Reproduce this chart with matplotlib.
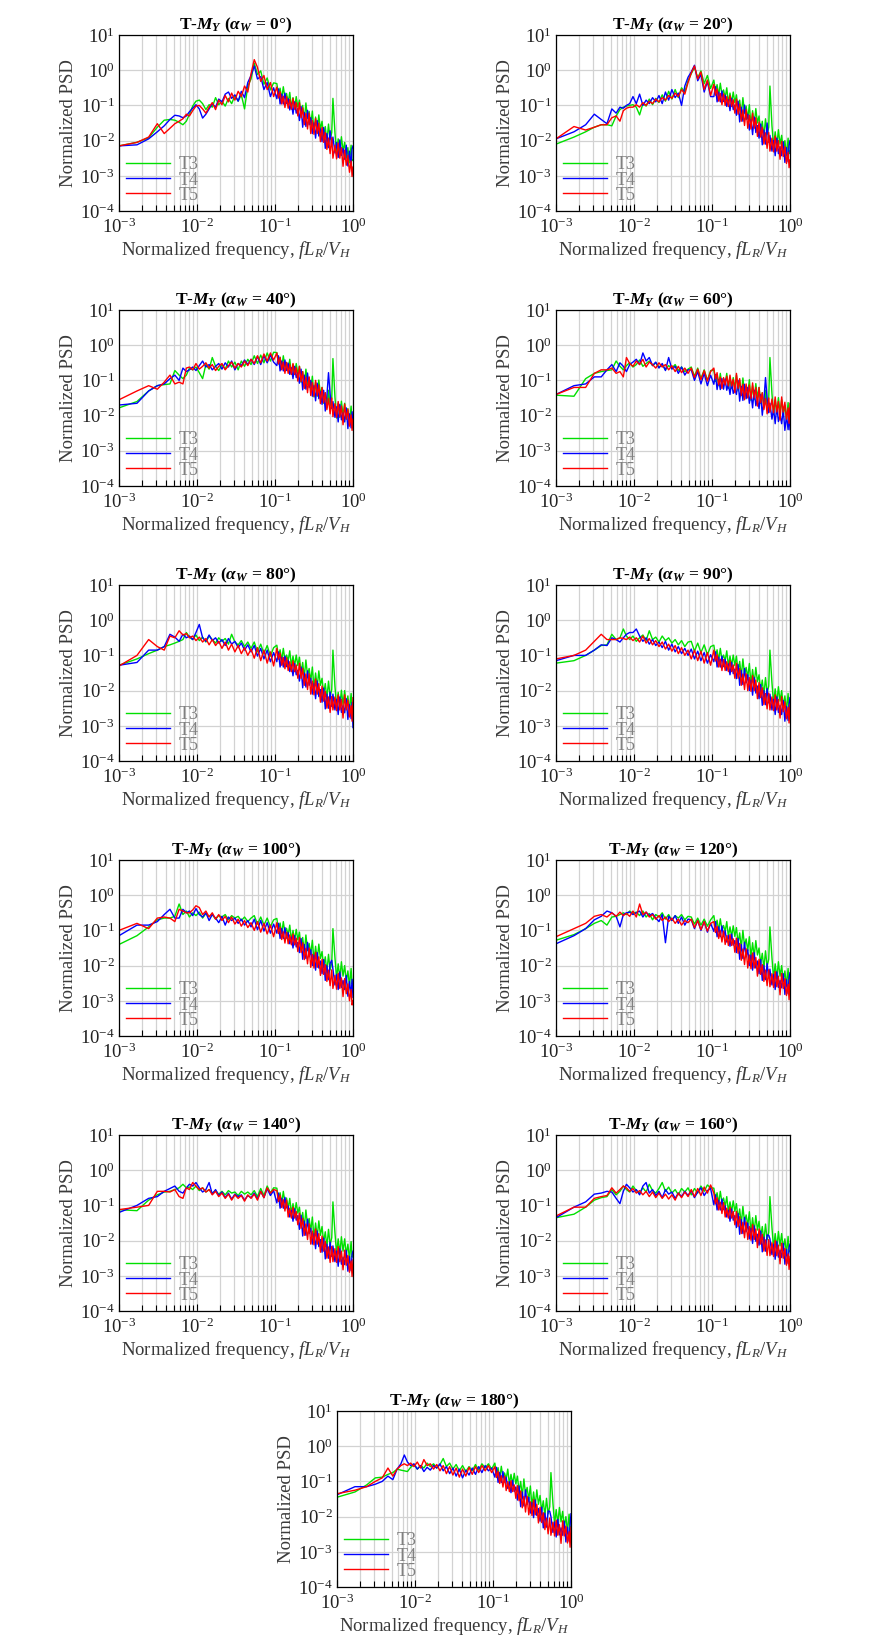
import numpy as np
import matplotlib
matplotlib.use('Agg')
import matplotlib.pyplot as plt
from matplotlib.ticker import LogLocator, NullFormatter, NullLocator

# frequency points (fL_R/V_H), shared by every spectrum
freq = [0.0010, 0.0017, 0.0024, 0.0031, 0.0038, 0.0045, 0.0052, 0.0059, 0.0066, 0.0073,
        0.0080, 0.0088, 0.0097, 0.0107, 0.0118, 0.0130, 0.0143, 0.0157, 0.0173, 0.0190,
        0.0209, 0.0230, 0.0253, 0.0278, 0.0306, 0.0337, 0.0370, 0.0407, 0.0448, 0.0493,
        0.0542, 0.0596, 0.0656, 0.0721, 0.0794, 0.0873, 0.0960,
        0.1056, 0.1108, 0.1162, 0.1219, 0.1278, 0.1341, 0.1406,
        0.1475, 0.1546, 0.1622, 0.1701, 0.1784, 0.1871, 0.1962,
        0.2058, 0.2159, 0.2264, 0.2374, 0.2490, 0.2612, 0.2739,
        0.2873, 0.3013, 0.3160, 0.3314, 0.3476, 0.3646, 0.3824,
        0.4010, 0.4206, 0.4411, 0.4627, 0.4852, 0.5089, 0.5338,
        0.5530, 0.5871, 0.6158, 0.6458, 0.6773, 0.7104, 0.7451,
        0.7814, 0.8196, 0.8596, 0.9016, 0.9455, 0.9730, 1.0]

angles = [0, 20, 40, 60, 80, 90, 100, 120, 140, 160, 180]

# log10 of normalized PSD
t3_000 = [-2.15,-2.05,-1.92,-1.62,-1.42,-1.40,-1.42,-1.48,-1.55,-1.45,
          -1.25,-1.02,-0.88,-0.85,-0.95,-1.12,-0.98,-1.05,-0.78,-0.98,
          -0.88,-1.02,-0.80,-0.95,-0.72,-0.88,-0.70,-1.10,-0.45,-0.25,
          0.20,-0.12,-0.02,-0.40,-0.22,-0.56,-0.36,
          -0.38,-0.70,-0.51,-0.82,-0.47,-0.79,-0.66,
          -0.91,-0.63,-1.06,-0.78,-1.06,-0.75,-1.05,
          -0.85,-1.30,-1.00,-1.43,-0.93,-1.37,-1.17,
          -1.56,-1.16,-1.75,-1.33,-1.73,-1.27,-1.68,
          -1.45,-1.90,-1.60,-2.03,-1.53,-1.97,-1.77,
          -0.80,-1.78,-2.37,-1.95,-2.35,-1.89,-2.30,
          -2.05,-2.50,-2.20,-2.63,-2.13,-2.57,-2.55]
t4_000 = [-2.15,-2.12,-1.95,-1.75,-1.58,-1.40,-1.28,-1.30,-1.35,-1.30,
          -1.18,-1.08,-0.98,-1.10,-1.36,-1.25,-1.10,-0.95,-1.05,-0.82,
          -0.90,-0.68,-0.62,-0.80,-0.70,-0.88,-0.60,-0.78,-0.35,-0.15,
          0.12,-0.25,-0.18,-0.55,-0.35,-0.75,-0.50,
          -0.81,-0.53,-0.96,-0.68,-0.96,-0.65,-0.95,
          -0.81,-1.13,-0.94,-1.25,-0.90,-1.22,-1.09,
          -1.43,-1.03,-1.62,-1.20,-1.60,-1.14,-1.55,
          -1.35,-1.80,-1.50,-1.93,-1.43,-1.87,-1.67,
          -2.03,-1.63,-2.22,-1.80,-2.20,-1.72,-2.15,
          -1.90,-2.35,-2.05,-2.48,-1.98,-2.42,-2.22,
          -2.53,-2.13,-2.72,-2.30,-2.70,-2.24,-2.15]
t5_000 = [-2.15,-2.05,-1.90,-1.52,-1.80,-1.65,-1.52,-1.45,-1.38,-1.25,
          -1.30,-1.15,-1.02,-1.00,-1.10,-1.22,-1.05,-0.92,-1.12,-0.85,
          -0.98,-0.72,-0.90,-0.65,-0.85,-0.60,-0.75,-0.45,-0.62,-0.10,
          0.30,0.08,-0.32,-0.15,-0.55,-0.35,-0.75,
          -0.48,-0.79,-0.61,-0.96,-0.74,-1.06,-0.75,
          -1.08,-0.83,-1.11,-0.80,-1.11,-0.92,-1.30,
          -0.92,-1.35,-1.07,-1.55,-1.23,-1.67,-1.22,
          -1.80,-1.43,-1.82,-1.37,-1.80,-1.50,-2.03,
          -1.62,-2.05,-1.77,-2.25,-1.93,-2.37,-1.92,
          -2.50,-2.13,-2.52,-2.07,-2.50,-2.20,-2.73,
          -2.27,-2.70,-2.42,-2.90,-2.58,-3.02,-2.75]

t3_020 = [-2.10,-1.90,-1.75,-1.62,-1.55,-1.55,-1.58,-1.30,-1.12,-1.05,
          -1.02,-1.00,-0.98,-1.05,-1.27,-0.95,-1.02,-0.82,-0.98,-0.80,
          -0.92,-0.70,-0.88,-0.60,-0.82,-0.55,-0.78,-0.50,-0.62,-0.30,
          -0.10,0.08,-0.22,-0.02,-0.38,-0.15,-0.52,
          -0.28,-0.60,-0.41,-0.72,-0.37,-0.69,-0.56,
          -0.78,-0.50,-0.93,-0.65,-0.93,-0.62,-0.92,
          -0.70,-1.15,-0.85,-1.28,-0.78,-1.22,-1.02,
          -1.38,-0.98,-1.57,-1.15,-1.55,-1.09,-1.50,
          -1.30,-1.75,-1.45,-1.88,-1.38,-1.82,-1.62,
          -0.45,-1.58,-2.17,-1.75,-2.15,-1.69,-2.10,
          -1.85,-2.30,-2.00,-2.43,-1.93,-2.37,-2.30]
t4_020 = [-1.95,-1.75,-1.55,-1.25,-1.40,-1.52,-1.10,-1.22,-1.05,-1.08,
          -1.00,-0.95,-0.75,-0.95,-0.68,-1.00,-0.85,-0.95,-0.78,-0.90,
          -0.72,-0.95,-0.62,-0.85,-0.55,-0.78,-0.65,-1.00,-0.45,-0.20,
          -0.05,0.14,-0.30,-0.12,-0.62,-0.32,-0.75,
          -0.75,-0.47,-0.90,-0.62,-0.90,-0.59,-0.89,
          -0.71,-1.03,-0.84,-1.15,-0.80,-1.12,-0.99,
          -1.28,-0.88,-1.47,-1.05,-1.45,-0.99,-1.40,
          -1.25,-1.70,-1.40,-1.83,-1.33,-1.77,-1.57,
          -1.93,-1.53,-2.12,-1.70,-2.10,-1.50,-2.05,
          -1.85,-2.30,-2.00,-2.43,-1.93,-2.37,-2.17,
          -2.43,-2.03,-2.62,-2.20,-2.60,-2.14,-2.00]
t5_020 = [-1.95,-1.60,-1.70,-1.62,-1.55,-1.55,-1.35,-1.30,-1.45,-1.15,
          -1.08,-1.05,-1.05,-0.98,-1.05,-0.92,-1.00,-0.88,-0.95,-0.82,
          -0.90,-0.78,-0.85,-0.72,-0.80,-0.65,-0.75,-0.55,-0.68,-0.35,
          -0.08,0.12,-0.25,-0.05,-0.55,-0.28,-0.72,
          -0.40,-0.71,-0.53,-0.88,-0.66,-0.98,-0.67,
          -1.00,-0.75,-1.03,-0.72,-1.03,-0.84,-1.22,
          -0.82,-1.25,-0.97,-1.45,-1.13,-1.57,-1.12,
          -1.65,-1.28,-1.67,-1.22,-1.65,-1.35,-1.88,
          -1.47,-1.90,-1.62,-2.10,-1.78,-2.22,-1.77,
          -2.30,-1.93,-2.32,-1.87,-2.30,-2.00,-2.53,
          -2.02,-2.45,-2.17,-2.65,-2.33,-2.77,-2.55]

t3_040 = [-1.78,-1.60,-1.30,-1.15,-1.12,-1.10,-0.72,-0.85,-0.95,-0.85,
          -0.65,-0.70,-0.62,-0.78,-0.95,-0.55,-0.68,-0.35,-0.60,-0.72,
          -0.55,-0.68,-0.45,-0.62,-0.48,-0.70,-0.45,-0.60,-0.40,-0.55,
          -0.30,-0.52,-0.28,-0.50,-0.22,-0.45,-0.20,
          -0.21,-0.53,-0.34,-0.65,-0.30,-0.62,-0.49,
          -0.68,-0.40,-0.83,-0.55,-0.83,-0.52,-0.82,
          -0.60,-1.05,-0.75,-1.18,-0.68,-1.12,-0.92,
          -1.28,-0.88,-1.47,-1.05,-1.45,-0.99,-1.40,
          -1.20,-1.65,-1.35,-1.78,-1.28,-1.72,-1.52,
          -0.38,-1.48,-2.07,-1.65,-2.05,-1.59,-2.00,
          -1.65,-2.10,-1.80,-2.23,-1.73,-2.17,-2.05]
t4_040 = [-1.70,-1.65,-1.30,-1.15,-1.10,-0.95,-0.85,-1.00,-0.65,-0.75,
          -0.70,-0.62,-0.72,-0.58,-0.45,-0.62,-0.55,-0.70,-0.60,-0.52,
          -0.68,-0.50,-0.62,-0.45,-0.70,-0.52,-0.58,-0.42,-0.55,-0.40,
          -0.55,-0.32,-0.55,-0.30,-0.50,-0.28,-0.48,
          -0.58,-0.30,-0.73,-0.45,-0.73,-0.42,-0.72,
          -0.51,-0.83,-0.64,-0.95,-0.60,-0.92,-0.79,
          -1.08,-0.68,-1.27,-0.85,-1.25,-0.79,-1.20,
          -1.00,-1.45,-1.15,-1.58,-1.08,-1.52,-1.32,
          -1.68,-1.28,-1.87,-1.45,-0.78,-1.39,-1.80,
          -1.60,-2.05,-1.75,-2.18,-1.68,-2.12,-1.92,
          -2.18,-1.78,-2.37,-1.95,-2.35,-1.89,-2.25]
t5_040 = [-1.55,-1.30,-1.15,-1.25,-1.05,-0.85,-1.10,-1.05,-1.10,-0.65,
          -0.62,-0.70,-0.52,-0.68,-0.60,-0.50,-0.65,-0.55,-0.72,-0.60,
          -0.52,-0.70,-0.58,-0.48,-0.65,-0.52,-0.62,-0.45,-0.58,-0.40,
          -0.52,-0.30,-0.50,-0.25,-0.45,-0.22,-0.42,
          -0.22,-0.53,-0.35,-0.70,-0.48,-0.80,-0.49,
          -0.80,-0.55,-0.83,-0.52,-0.83,-0.64,-1.02,
          -0.60,-1.03,-0.75,-1.23,-0.91,-1.35,-0.90,
          -1.43,-1.06,-1.45,-1.00,-1.43,-1.13,-1.66,
          -1.20,-1.63,-1.35,-1.83,-1.51,-1.95,-1.50,
          -2.03,-1.66,-2.05,-1.60,-2.03,-1.73,-2.26,
          -1.67,-2.10,-1.82,-2.30,-1.98,-2.42,-2.10]

t3_060 = [-1.42,-1.45,-0.95,-0.80,-0.75,-0.72,-0.70,-0.45,-0.60,-0.70,
          -0.58,-0.50,-0.62,-0.55,-0.42,-0.60,-0.52,-0.45,-0.58,-0.50,
          -0.62,-0.55,-0.70,-0.58,-0.65,-0.55,-0.72,-0.62,-0.75,-0.68,
          -0.62,-0.88,-0.65,-0.95,-0.70,-1.00,-0.72,
          -0.71,-1.03,-0.84,-1.15,-0.80,-1.12,-0.99,
          -1.08,-0.80,-1.23,-0.95,-1.23,-0.92,-1.22,
          -0.85,-1.30,-1.00,-1.43,-0.93,-1.37,-1.17,
          -1.38,-0.98,-1.57,-1.15,-1.55,-1.09,-1.50,
          -1.20,-1.65,-1.35,-1.78,-1.28,-1.72,-1.52,
          -0.35,-1.38,-1.97,-1.55,-1.95,-1.49,-1.90,
          -1.55,-2.00,-1.70,-2.13,-1.63,-2.07,-1.80]
t4_060 = [-1.40,-1.15,-1.10,-0.90,-0.90,-0.70,-0.55,-0.75,-0.50,-0.60,
          -0.75,-0.55,-0.48,-0.40,-0.55,-0.22,-0.45,-0.35,-0.58,-0.48,
          -0.65,-0.52,-0.72,-0.35,-0.68,-0.60,-0.80,-0.62,-0.85,-0.70,
          -0.70,-1.00,-0.75,-1.10,-0.80,-1.15,-0.85,
          -1.11,-0.83,-1.26,-0.98,-1.26,-0.95,-1.25,
          -0.96,-1.28,-1.09,-1.40,-1.05,-1.37,-1.24,
          -1.40,-1.00,-1.59,-1.17,-1.57,-1.11,-1.52,
          -1.20,-1.65,-1.35,-1.78,-1.28,-1.72,-1.52,
          -1.80,-1.40,-1.99,-1.57,-0.92,-1.51,-1.92,
          -1.65,-2.10,-1.80,-2.23,-1.73,-2.17,-1.97,
          -2.23,-1.83,-2.42,-2.00,-2.40,-1.94,-2.40]
t5_060 = [-1.40,-1.20,-1.20,-0.80,-0.70,-0.70,-0.65,-0.80,-0.75,-0.90,
          -0.35,-0.52,-0.60,-0.45,-0.55,-0.40,-0.62,-0.48,-0.55,-0.65,
          -0.50,-0.62,-0.55,-0.70,-0.58,-0.75,-0.60,-0.78,-0.65,-0.80,
          -0.65,-0.92,-0.68,-0.98,-0.72,-1.02,-0.75,
          -0.65,-0.96,-0.78,-1.13,-0.91,-1.23,-0.92,
          -1.13,-0.88,-1.16,-0.85,-1.16,-0.97,-1.35,
          -0.80,-1.23,-0.95,-1.43,-1.11,-1.55,-1.10,
          -1.50,-1.13,-1.52,-1.07,-1.50,-1.20,-1.73,
          -1.20,-1.63,-1.35,-1.83,-1.51,-1.95,-1.50,
          -1.90,-1.53,-1.92,-1.47,-1.90,-1.60,-2.13,
          -1.47,-1.90,-1.62,-2.10,-1.78,-2.22,-1.65]

t3_080 = [-1.28,-1.10,-0.95,-0.85,-0.75,-0.70,-0.65,-0.60,-0.55,-0.35,
          -0.48,-0.55,-0.42,-0.58,-0.48,-0.62,-0.45,-0.55,-0.65,-0.50,
          -0.60,-0.52,-0.68,-0.40,-0.62,-0.70,-0.58,-0.75,-0.62,-0.80,
          -0.62,-0.90,-0.68,-0.95,-0.72,-1.02,-0.78,
          -0.71,-1.03,-0.84,-1.15,-0.80,-1.12,-0.99,
          -1.15,-0.87,-1.30,-1.02,-1.30,-0.99,-1.29,
          -1.05,-1.50,-1.20,-1.63,-1.13,-1.57,-1.37,
          -1.73,-1.33,-1.92,-1.50,-1.90,-1.44,-1.85,
          -1.65,-2.10,-1.80,-2.23,-1.73,-2.17,-1.97,
          -0.85,-1.88,-2.47,-2.05,-2.45,-1.99,-2.40,
          -2.00,-2.45,-2.15,-2.58,-2.08,-2.52,-2.35]
t4_080 = [-1.28,-1.20,-0.85,-0.85,-0.75,-0.40,-0.48,-0.60,-0.40,-0.50,
          -0.45,-0.55,-0.35,-0.12,-0.50,-0.60,-0.42,-0.58,-0.50,-0.65,
          -0.55,-0.72,-0.52,-0.68,-0.60,-0.78,-0.65,-0.85,-0.70,-0.90,
          -0.72,-1.02,-0.80,-1.10,-0.85,-1.18,-0.92,
          -1.18,-0.90,-1.33,-1.05,-1.33,-1.02,-1.32,
          -1.14,-1.46,-1.27,-1.58,-1.23,-1.55,-1.42,
          -1.73,-1.33,-1.92,-1.50,-1.90,-1.44,-1.85,
          -1.65,-2.10,-1.80,-2.23,-1.73,-2.17,-1.97,
          -2.33,-1.93,-2.52,-2.10,-2.50,-2.04,-2.45,
          -2.10,-2.55,-2.25,-2.68,-2.18,-2.62,-2.42,
          -2.63,-2.23,-2.82,-2.40,-2.80,-2.34,-3.05]
t5_080 = [-1.30,-1.00,-0.55,-0.75,-0.85,-0.45,-0.50,-0.30,-0.42,-0.38,
          -0.50,-0.45,-0.58,-0.48,-0.62,-0.52,-0.70,-0.55,-0.72,-0.60,
          -0.80,-0.62,-0.85,-0.68,-0.90,-0.72,-0.95,-0.78,-1.00,-0.82,
          -1.08,-0.78,-1.15,-0.85,-1.22,-0.90,-1.30,
          -0.80,-1.11,-0.93,-1.28,-1.06,-1.38,-1.07,
          -1.43,-1.18,-1.46,-1.15,-1.46,-1.27,-1.65,
          -1.22,-1.65,-1.37,-1.85,-1.53,-1.97,-1.52,
          -2.10,-1.73,-2.12,-1.67,-2.10,-1.80,-2.33,
          -1.87,-2.30,-2.02,-2.50,-2.18,-2.62,-2.17,
          -2.55,-2.18,-2.57,-2.12,-2.55,-2.25,-2.78,
          -2.12,-2.55,-2.27,-2.75,-2.43,-2.87,-2.20]

t3_090 = [-1.22,-1.15,-1.00,-0.85,-0.72,-0.70,-0.40,-0.55,-0.50,-0.25,
          -0.45,-0.55,-0.45,-0.60,-0.50,-0.42,-0.58,-0.30,-0.55,-0.48,
          -0.62,-0.45,-0.58,-0.50,-0.65,-0.55,-0.70,-0.58,-0.75,-0.62,
          -0.60,-0.88,-0.65,-0.92,-0.70,-0.98,-0.75,
          -0.71,-1.03,-0.84,-1.15,-0.80,-1.12,-0.99,
          -1.15,-0.87,-1.30,-1.02,-1.30,-0.99,-1.29,
          -1.02,-1.47,-1.17,-1.60,-1.10,-1.54,-1.34,
          -1.63,-1.23,-1.82,-1.40,-1.80,-1.34,-1.75,
          -1.55,-2.00,-1.70,-2.13,-1.63,-2.07,-1.87,
          -0.85,-1.78,-2.37,-1.95,-2.35,-1.89,-2.30,
          -2.00,-2.45,-2.15,-2.58,-2.08,-2.52,-2.45]
t4_090 = [-1.15,-1.00,-1.00,-0.85,-0.70,-0.72,-0.50,-0.55,-0.62,-0.50,
          -0.40,-0.35,-0.35,-0.25,-0.45,-0.60,-0.50,-0.68,-0.55,-0.72,
          -0.62,-0.78,-0.60,-0.85,-0.68,-0.90,-0.75,-0.95,-0.80,-1.00,
          -0.82,-1.10,-0.88,-1.15,-0.92,-1.22,-0.98,
          -1.18,-0.90,-1.33,-1.05,-1.33,-1.02,-1.32,
          -1.11,-1.43,-1.24,-1.55,-1.20,-1.52,-1.39,
          -1.66,-1.26,-1.85,-1.43,-1.83,-1.37,-1.78,
          -1.55,-2.00,-1.70,-2.13,-1.63,-2.07,-1.87,
          -2.23,-1.83,-2.42,-2.00,-2.40,-1.94,-2.35,
          -2.10,-2.55,-2.25,-2.68,-2.18,-2.62,-2.42,
          -2.68,-2.28,-2.87,-2.45,-2.85,-2.39,-2.20]
t5_090 = [-1.10,-1.00,-0.85,-0.60,-0.40,-0.55,-0.55,-0.55,-0.50,-0.52,
          -0.55,-0.48,-0.58,-0.50,-0.62,-0.45,-0.65,-0.52,-0.70,-0.58,
          -0.75,-0.62,-0.82,-0.68,-0.88,-0.72,-0.95,-0.78,-1.00,-0.85,
          -1.10,-0.85,-1.15,-0.88,-1.22,-0.92,-1.28,
          -0.85,-1.16,-0.98,-1.33,-1.11,-1.43,-1.12,
          -1.43,-1.18,-1.46,-1.15,-1.46,-1.27,-1.65,
          -1.22,-1.65,-1.37,-1.85,-1.53,-1.97,-1.52,
          -2.00,-1.63,-2.02,-1.57,-2.00,-1.70,-2.23,
          -1.77,-2.20,-1.92,-2.40,-2.08,-2.52,-2.07,
          -2.55,-2.18,-2.57,-2.12,-2.55,-2.25,-2.78,
          -2.17,-2.60,-2.32,-2.80,-2.48,-2.92,-2.40]

t3_100 = [-1.40,-1.15,-0.90,-0.70,-0.65,-0.65,-0.60,-0.25,-0.55,-0.45,
          -0.62,-0.50,-0.58,-0.48,-0.65,-0.52,-0.60,-0.55,-0.68,-0.58,
          -0.62,-0.55,-0.70,-0.58,-0.65,-0.60,-0.72,-0.62,-0.75,-0.65,
          -0.58,-0.82,-0.62,-0.85,-0.65,-0.90,-0.70,
          -0.66,-0.98,-0.79,-1.10,-0.75,-1.07,-0.94,
          -1.13,-0.85,-1.28,-1.00,-1.28,-0.97,-1.27,
          -1.05,-1.50,-1.20,-1.63,-1.13,-1.57,-1.37,
          -1.68,-1.28,-1.87,-1.45,-1.85,-1.39,-1.80,
          -1.60,-2.05,-1.75,-2.18,-1.68,-2.12,-1.92,
          -0.95,-1.78,-2.37,-1.95,-2.35,-1.89,-2.30,
          -2.00,-2.45,-2.15,-2.58,-2.08,-2.52,-2.45]
t4_100 = [-1.15,-0.85,-0.85,-0.75,-0.55,-0.40,-0.65,-0.65,-0.40,-0.50,
          -0.45,-0.58,-0.38,-0.55,-0.62,-0.50,-0.72,-0.55,-0.65,-0.78,
          -0.60,-0.85,-0.62,-0.72,-0.65,-0.80,-0.68,-0.85,-0.72,-0.90,
          -0.68,-0.98,-0.72,-1.02,-0.78,-1.08,-0.82,
          -1.08,-0.80,-1.23,-0.95,-1.23,-0.92,-1.22,
          -1.06,-1.38,-1.19,-1.50,-1.15,-1.47,-1.34,
          -1.63,-1.23,-1.82,-1.40,-1.80,-1.34,-1.75,
          -1.55,-2.00,-1.70,-2.13,-1.63,-2.07,-1.87,
          -2.23,-1.83,-2.42,-2.00,-2.40,-1.94,-1.85,
          -2.10,-2.55,-2.25,-2.68,-2.18,-2.62,-2.42,
          -2.68,-2.28,-2.87,-2.45,-2.85,-2.39,-2.90]
t5_100 = [-1.00,-0.80,-0.95,-0.65,-0.62,-0.65,-0.75,-0.40,-0.45,-0.50,
          -0.50,-0.42,-0.30,-0.35,-0.55,-0.45,-0.62,-0.50,-0.68,-0.55,
          -0.72,-0.60,-0.78,-0.62,-0.82,-0.68,-0.88,-0.72,-0.92,-0.78,
          -1.00,-0.75,-1.05,-0.80,-1.10,-0.85,-1.18,
          -0.78,-1.09,-0.91,-1.26,-1.04,-1.36,-1.05,
          -1.38,-1.13,-1.41,-1.10,-1.41,-1.22,-1.60,
          -1.20,-1.63,-1.35,-1.83,-1.51,-1.95,-1.50,
          -2.05,-1.68,-2.07,-1.62,-2.05,-1.75,-2.28,
          -1.82,-2.25,-1.97,-2.45,-2.13,-2.57,-2.12,
          -2.65,-2.28,-2.67,-2.22,-2.65,-2.35,-2.88,
          -2.37,-2.80,-2.52,-3.00,-2.68,-3.12,-3.00]

t3_120 = [-1.28,-1.12,-0.95,-0.80,-0.72,-0.85,-0.62,-0.60,-0.55,-0.50,
          -0.55,-0.45,-0.52,-0.48,-0.58,-0.45,-0.62,-0.52,-0.70,-0.55,
          -0.62,-0.50,-0.68,-0.55,-0.72,-0.58,-0.65,-0.55,-0.70,-0.60,
          -0.62,-0.82,-0.65,-0.85,-0.68,-0.88,-0.70,
          -0.58,-0.90,-0.71,-1.02,-0.67,-0.99,-0.86,
          -1.03,-0.75,-1.18,-0.90,-1.18,-0.87,-1.17,
          -0.92,-1.37,-1.07,-1.50,-1.00,-1.44,-1.24,
          -1.58,-1.18,-1.77,-1.35,-1.75,-1.29,-1.70,
          -1.50,-1.95,-1.65,-2.08,-1.58,-2.02,-1.82,
          -0.90,-1.78,-2.37,-1.95,-2.35,-1.89,-2.30,
          -2.00,-2.45,-2.15,-2.58,-2.08,-2.52,-2.30]
t4_120 = [-1.38,-1.15,-0.95,-0.70,-0.60,-0.45,-0.50,-0.60,-0.90,-0.55,
          -0.50,-0.48,-0.55,-0.50,-0.45,-0.62,-0.48,-0.58,-0.52,-0.65,
          -0.75,-0.55,-1.35,-0.60,-0.72,-0.58,-0.80,-0.62,-0.85,-0.68,
          -0.70,-0.95,-0.72,-1.00,-0.75,-1.05,-0.80,
          -1.03,-0.75,-1.18,-0.90,-1.18,-0.87,-1.17,
          -1.01,-1.33,-1.14,-1.45,-1.10,-1.42,-1.29,
          -1.63,-1.23,-1.82,-1.40,-1.80,-1.34,-1.75,
          -1.55,-2.00,-1.70,-2.13,-1.63,-2.07,-1.87,
          -2.23,-1.83,-2.42,-2.00,-2.40,-1.94,-2.35,
          -2.10,-2.55,-2.25,-2.68,-2.18,-2.62,-2.42,
          -2.63,-2.23,-2.82,-2.40,-2.80,-2.34,-2.20]
t5_120 = [-1.18,-0.95,-0.80,-0.60,-0.55,-0.62,-0.50,-0.60,-0.48,-0.58,
          -0.52,-0.60,-0.45,-0.62,-0.25,-0.55,-0.48,-0.62,-0.55,-0.68,
          -0.58,-0.72,-0.62,-0.75,-0.65,-0.80,-0.68,-0.85,-0.72,-0.78,
          -0.68,-0.92,-0.72,-0.98,-0.75,-1.02,-0.80,
          -0.75,-1.06,-0.88,-1.23,-1.01,-1.33,-1.02,
          -1.40,-1.15,-1.43,-1.12,-1.43,-1.24,-1.62,
          -1.22,-1.65,-1.37,-1.85,-1.53,-1.97,-1.52,
          -2.07,-1.70,-2.09,-1.64,-2.07,-1.77,-2.30,
          -1.82,-2.25,-1.97,-2.45,-2.13,-2.57,-2.12,
          -2.60,-2.23,-2.62,-2.17,-2.60,-2.30,-2.83,
          -2.22,-2.65,-2.37,-2.85,-2.53,-2.97,-2.40]

t3_140 = [-1.12,-1.15,-0.85,-0.70,-0.62,-0.60,-0.55,-0.50,-0.40,-0.50,
          -0.48,-0.55,-0.45,-0.58,-0.50,-0.62,-0.55,-0.65,-0.58,-0.68,
          -0.60,-0.70,-0.58,-0.65,-0.62,-0.72,-0.60,-0.68,-0.62,-0.70,
          -0.58,-0.75,-0.52,-0.72,-0.45,-0.65,-0.50,
          -0.51,-0.83,-0.64,-0.95,-0.60,-0.92,-0.79,
          -1.08,-0.80,-1.23,-0.95,-1.23,-0.92,-1.22,
          -1.05,-1.50,-1.20,-1.63,-1.13,-1.57,-1.37,
          -1.73,-1.33,-1.92,-1.50,-1.90,-1.44,-1.85,
          -1.60,-2.05,-1.75,-2.18,-1.68,-2.12,-1.92,
          -0.90,-1.78,-2.37,-1.95,-2.35,-1.89,-2.30,
          -1.95,-2.40,-2.10,-2.53,-2.03,-2.47,-2.40]
t4_140 = [-1.20,-1.00,-0.80,-0.75,-0.60,-0.52,-0.45,-0.60,-0.65,-0.50,
          -0.40,-0.45,-0.35,-0.50,-0.62,-0.55,-0.35,-0.68,-0.55,-0.72,
          -0.62,-0.78,-0.65,-0.82,-0.68,-0.75,-0.70,-0.85,-0.72,-0.78,
          -0.65,-0.82,-0.60,-0.78,-0.52,-0.72,-0.58,
          -0.93,-0.65,-1.08,-0.80,-1.08,-0.77,-1.07,
          -1.01,-1.33,-1.14,-1.45,-1.10,-1.42,-1.29,
          -1.68,-1.28,-1.87,-1.45,-1.85,-1.39,-1.80,
          -1.65,-2.10,-1.80,-2.23,-1.73,-2.17,-1.97,
          -2.33,-1.93,-2.52,-2.10,-2.50,-2.04,-2.45,
          -2.15,-2.60,-2.30,-2.73,-2.23,-2.67,-2.47,
          -2.68,-2.28,-2.87,-2.45,-2.85,-2.39,-2.30]
t5_140 = [-1.12,-1.05,-1.00,-0.60,-0.60,-0.62,-0.55,-0.75,-0.80,-0.50,
          -0.55,-0.35,-0.45,-0.55,-0.50,-0.62,-0.55,-0.70,-0.60,-0.75,
          -0.65,-0.80,-0.68,-0.85,-0.70,-0.80,-0.72,-0.88,-0.70,-0.80,
          -0.68,-0.85,-0.60,-0.78,-0.50,-0.65,-0.55,
          -0.58,-0.89,-0.71,-1.06,-0.84,-1.16,-0.85,
          -1.33,-1.08,-1.36,-1.05,-1.36,-1.17,-1.55,
          -1.22,-1.65,-1.37,-1.85,-1.53,-1.97,-1.52,
          -2.10,-1.73,-2.12,-1.67,-2.10,-1.80,-2.33,
          -1.87,-2.30,-2.02,-2.50,-2.18,-2.62,-2.17,
          -2.60,-2.23,-2.62,-2.17,-2.60,-2.30,-2.83,
          -2.27,-2.70,-2.42,-2.90,-2.58,-3.02,-2.55]

t3_160 = [-1.35,-1.25,-1.05,-0.85,-0.78,-0.75,-0.55,-0.70,-0.60,-0.45,
          -0.55,-0.62,-0.45,-0.58,-0.65,-0.50,-0.62,-0.40,-0.58,-0.65,
          -0.52,-0.35,-0.60,-0.48,-0.65,-0.55,-0.70,-0.52,-0.62,-0.50,
          -0.70,-0.52,-0.65,-0.45,-0.60,-0.42,-0.50,
          -0.51,-0.83,-0.64,-0.95,-0.60,-0.92,-0.79,
          -1.03,-0.75,-1.18,-0.90,-1.18,-0.87,-1.17,
          -0.95,-1.40,-1.10,-1.53,-1.03,-1.47,-1.27,
          -1.58,-1.18,-1.77,-1.35,-1.75,-1.29,-1.70,
          -1.45,-1.90,-1.60,-2.03,-1.53,-1.97,-1.77,
          -0.75,-1.63,-2.22,-1.80,-2.20,-1.74,-2.15,
          -1.80,-2.25,-1.95,-2.38,-1.88,-2.32,-2.30]
t4_160 = [-1.35,-1.05,-0.90,-0.68,-0.65,-0.60,-0.62,-0.80,-0.95,-0.60,
          -0.40,-0.50,-0.62,-0.55,-0.70,-0.45,-0.35,-0.65,-0.55,-0.72,
          -0.60,-0.78,-0.55,-0.68,-0.62,-0.80,-0.65,-0.75,-0.60,-0.72,
          -0.58,-0.78,-0.62,-0.50,-0.72,-0.58,-0.52,
          -0.98,-0.70,-1.13,-0.85,-1.13,-0.82,-1.12,
          -1.01,-1.33,-1.14,-1.45,-1.10,-1.42,-1.29,
          -1.63,-1.23,-1.82,-1.40,-1.80,-1.34,-1.75,
          -1.50,-1.95,-1.65,-2.08,-1.58,-2.02,-1.82,
          -2.13,-1.73,-2.32,-1.90,-2.30,-1.84,-1.85,
          -1.95,-2.40,-2.10,-2.53,-2.03,-2.47,-2.27,
          -2.48,-2.08,-2.67,-2.25,-2.65,-2.19,-2.10]
t5_160 = [-1.30,-1.05,-1.05,-0.80,-0.75,-0.72,-0.50,-0.65,-0.55,-0.45,
          -0.50,-0.60,-0.52,-0.65,-0.58,-0.70,-0.60,-0.75,-0.62,-0.78,
          -0.65,-0.80,-0.68,-0.82,-0.70,-0.85,-0.65,-0.78,-0.62,-0.75,
          -0.55,-0.75,-0.52,-0.72,-0.48,-0.65,-0.42,
          -0.65,-0.96,-0.78,-1.13,-0.91,-1.23,-0.92,
          -1.33,-1.08,-1.36,-1.05,-1.36,-1.17,-1.55,
          -1.17,-1.60,-1.32,-1.80,-1.48,-1.92,-1.47,
          -1.97,-1.60,-1.99,-1.54,-1.97,-1.67,-2.20,
          -1.67,-2.10,-1.82,-2.30,-1.98,-2.42,-1.97,
          -2.43,-2.06,-2.45,-2.00,-2.43,-2.13,-2.66,
          -2.07,-2.50,-2.22,-2.70,-2.38,-2.82,-2.45]

t3_180 = [-1.45,-1.30,-1.10,-0.90,-0.88,-0.80,-0.75,-0.65,-0.68,-0.70,
          -0.72,-0.60,-0.52,-0.65,-0.55,-0.62,-0.48,-0.58,-0.50,-0.62,
          -0.52,-0.35,-0.58,-0.48,-0.65,-0.52,-0.70,-0.55,-0.72,-0.58,
          -0.70,-0.52,-0.68,-0.50,-0.62,-0.50,-0.65,
          -0.48,-0.80,-0.61,-0.92,-0.57,-0.89,-0.76,
          -0.93,-0.65,-1.08,-0.80,-1.08,-0.77,-1.07,
          -0.85,-1.30,-1.00,-1.43,-0.93,-1.37,-1.17,
          -1.53,-1.13,-1.72,-1.30,-1.70,-1.24,-1.65,
          -1.40,-1.85,-1.55,-1.98,-1.48,-1.92,-1.72,
          -0.75,-1.63,-2.22,-1.80,-2.20,-1.74,-2.15,
          -1.85,-2.30,-2.00,-2.43,-1.93,-2.37,-2.30]
t4_180 = [-1.38,-1.15,-1.15,-1.08,-1.00,-0.85,-0.95,-0.65,-0.50,-0.25,
          -0.45,-0.55,-0.50,-0.65,-0.55,-0.72,-0.60,-0.68,-0.55,-0.62,
          -0.50,-0.70,-0.58,-0.78,-0.62,-0.85,-0.65,-0.90,-0.68,-0.82,
          -0.62,-0.80,-0.58,-0.75,-0.55,-0.70,-0.62,
          -0.88,-0.60,-1.03,-0.75,-1.03,-0.72,-1.02,
          -0.88,-1.20,-1.01,-1.32,-0.97,-1.29,-1.16,
          -1.53,-1.13,-1.72,-1.30,-1.70,-1.24,-1.65,
          -1.45,-1.90,-1.60,-2.03,-1.53,-1.97,-1.77,
          -2.13,-1.73,-2.32,-1.90,-2.30,-1.84,-1.85,
          -2.00,-2.45,-2.15,-2.58,-2.08,-2.52,-2.32,
          -2.53,-2.13,-2.72,-2.30,-2.70,-2.24,-1.92]
t5_180 = [-1.35,-1.25,-1.15,-1.00,-0.90,-0.62,-0.85,-0.65,-0.55,-0.50,
          -0.55,-0.48,-0.58,-0.45,-0.62,-0.38,-0.55,-0.50,-0.65,-0.52,
          -0.70,-0.55,-0.78,-0.58,-0.82,-0.62,-0.88,-0.65,-0.85,-0.60,
          -0.80,-0.58,-0.75,-0.55,-0.70,-0.55,-0.75,
          -0.58,-0.89,-0.71,-1.06,-0.84,-1.16,-0.85,
          -1.26,-1.01,-1.29,-0.98,-1.29,-1.10,-1.48,
          -1.12,-1.55,-1.27,-1.75,-1.43,-1.87,-1.42,
          -1.95,-1.58,-1.97,-1.52,-1.95,-1.65,-2.18,
          -1.74,-2.17,-1.89,-2.37,-2.05,-2.49,-2.04,
          -2.53,-2.16,-2.55,-2.10,-2.53,-2.23,-2.76,
          -2.12,-2.55,-2.27,-2.75,-2.43,-2.87,-2.30]

series_t3 = [t3_000, t3_020, t3_040, t3_060, t3_080, t3_090, t3_100, t3_120, t3_140, t3_160, t3_180]
series_t4 = [t4_000, t4_020, t4_040, t4_060, t4_080, t4_090, t4_100, t4_120, t4_140, t4_160, t4_180]
series_t5 = [t5_000, t5_020, t5_040, t5_060, t5_080, t5_090, t5_100, t5_120, t5_140, t5_160, t5_180]

# fonts: Times-like serif everywhere
plt.rcParams['font.family'] = ['Liberation Serif', 'DejaVu Serif']
plt.rcParams['mathtext.fontset'] = 'custom'
plt.rcParams['mathtext.rm'] = 'Liberation Serif'
plt.rcParams['mathtext.it'] = 'Liberation Serif:italic'
plt.rcParams['mathtext.bf'] = 'Liberation Serif:bold'
try:
    plt.rcParams['mathtext.bfit'] = 'Liberation Serif:bold:italic'
    HAS_BFIT = True
except KeyError:
    HAS_BFIT = False

W, H = 882, 1650
AX_W, AX_H = 234, 176
row_tops = [35, 310, 585, 860, 1135, 1411]
col_lefts = [119, 556]

GRID_C = '#d2d2d2'
LABEL_C = '#3a3a3a'


def panel_title(angle):
    if HAS_BFIT:
        return r'T-$\mathbfit{M}_{\mathbfit{Y}}$ ($\mathbfit{\alpha}_{\mathbfit{W}}$ = ' + f'{angle}°)'
    return r'T-$M_Y$ ($\alpha_W$ = ' + f'{angle}°)'


def draw_panel(ax, angle, t3, t4, t5):
    ax.plot(freq, 10 ** np.array(t3), color='#00e000', lw=1.0, label='T3')
    ax.plot(freq, 10 ** np.array(t4), color='#0000ff', lw=1.0, label='T4')
    ax.plot(freq, 10 ** np.array(t5), color='#ff0000', lw=1.0, label='T5')
    ax.set_xscale('log')
    ax.set_yscale('log')
    ax.set_xlim(1e-3, 1)
    ax.set_ylim(1e-4, 10)
    ax.xaxis.set_major_locator(LogLocator(base=10, numticks=10))
    ax.xaxis.set_minor_locator(LogLocator(base=10, subs=np.arange(2, 10), numticks=20))
    ax.xaxis.set_minor_formatter(NullFormatter())
    ax.yaxis.set_major_locator(LogLocator(base=10, numticks=12))
    ax.yaxis.set_minor_locator(NullLocator())
    ax.grid(True, which='both', axis='x', color=GRID_C, lw=0.9)
    ax.grid(True, which='major', axis='y', color=GRID_C, lw=0.9)
    ax.set_axisbelow(True)
    ax.tick_params(which='both', direction='in', top=False, right=False,
                   labelsize=13.5, labelcolor='#222222', width=0.8)
    ax.tick_params(axis='y', length=0, pad=3)
    ax.tick_params(axis='x', which='major', length=5, pad=5)
    ax.tick_params(axis='x', which='minor', length=4)
    for sp in ax.spines.values():
        sp.set_linewidth(0.9)
    ax.set_title(panel_title(angle), fontsize=12.5, fontweight='bold', pad=3)
    ax.set_ylabel('Normalized PSD', fontsize=13.5, color=LABEL_C, labelpad=2)
    ax.set_xlabel(r'Normalized frequency, $fL_R/V_H$', fontsize=13.5, color=LABEL_C, labelpad=1)
    ax.legend(loc='lower left', frameon=False, fontsize=13, labelcolor='#808080',
              handlelength=2.4, handletextpad=0.5, labelspacing=-0.1,
              borderaxespad=0.2, borderpad=0.2)


fig = plt.figure(figsize=(W / 100, H / 100), dpi=100)

for i, angle in enumerate(angles):
    if i < 10:
        left = col_lefts[i % 2]
        top = row_tops[i // 2]
    else:
        left = 337
        top = row_tops[5]
    ax = fig.add_axes([left / W, 1 - (top + AX_H) / H, AX_W / W, AX_H / H])
    draw_panel(ax, angle, series_t3[i], series_t4[i], series_t5[i])

fig.savefig('out.png', dpi=100)
